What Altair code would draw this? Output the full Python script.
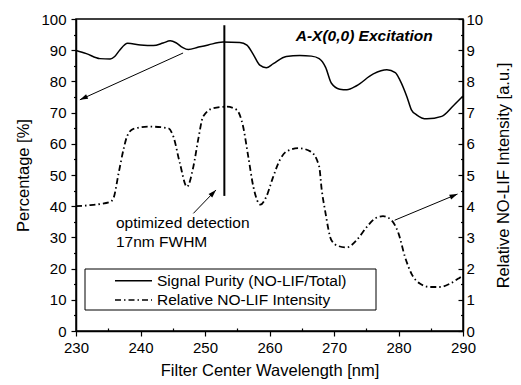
import math
import altair as alt
import pandas as pd

# ---- data ----
purity_wl = [230, 231.6, 233.7, 235.3, 236.0, 236.8, 238.0, 240.0, 242.0, 243.5, 244.6, 245.5,
             246.5, 247.4, 249.0, 250.5, 252.8, 255.4, 256.5, 257.5, 258.5, 259.5, 260.6, 262.6,
             264.7, 266.5, 267.7, 268.7, 269.6, 270.9, 272.0, 273.5, 276.1, 278.2, 279.5, 280.2,
             281.3, 282.0, 282.8, 284.4, 286.7, 288.5, 290.0]
purity = [89.9, 88.9, 87.3, 87.2, 88.0, 90.1, 92.2, 91.7, 91.5, 92.3, 93.0, 92.4,
          90.9, 90.2, 91.0, 91.7, 92.6, 92.5, 91.6, 88.6, 85.2, 84.4, 85.7, 88.0,
          88.3, 88.1, 87.3, 84.5, 79.4, 77.5, 77.3, 78.6, 82.4, 83.7, 82.8, 80.5,
          75.1, 70.9, 69.3, 68.0, 68.8, 72.2, 75.3]

lif_wl = [230, 232, 233.7, 235.3, 235.8, 236.6, 237.4, 237.9, 238.9, 241.5, 244.3, 245.1,
          246.1, 247.2, 248.2, 249.0, 249.7, 251.3, 253.4, 254.9, 255.9, 256.7, 257.5, 258.6,
          259.5, 260.5, 261.6, 262.6, 264.5, 266.4, 267.7, 268.1, 268.6, 269.6, 270.7, 272.0,
          273.5, 275.1, 276.4, 277.6, 278.9, 280.0, 281.0, 282.0, 283.3, 284.9, 286.4, 288.0,
          289.5, 290.0]
lif = [4.00, 4.03, 4.07, 4.14, 4.25, 5.05, 5.85, 6.23, 6.48, 6.55, 6.50, 6.23,
       5.38, 4.62, 5.27, 6.20, 6.87, 7.14, 7.19, 7.09, 6.56, 5.60, 4.62, 4.05,
       4.30, 4.90, 5.48, 5.75, 5.86, 5.75, 5.27, 4.52, 3.88, 2.91, 2.72, 2.68,
       2.91, 3.34, 3.61, 3.68, 3.55, 3.13, 2.38, 1.84, 1.52, 1.41, 1.41, 1.52,
       1.71, 1.78]

detect_wl = 253.0
detect_y = [43.3, 98.0]

arrow_from_x = [246.6, 248.2, 279.4]
arrow_from_y = [89.1, 37.7, 35.5]
arrow_to_x = [230.6, 251.7, 289.15]
arrow_to_y = [74.1, 45.2, 43.9]

title_text = "A-X(0,0) Excitation"
note_lines = ["optimized detection", "17nm FWHM"]
legend_labels = ["Signal Purity (NO-LIF/Total)", "Relative NO-LIF Intensity"]

# ---- layout ----
W, H = 387, 312
FONT = "Liberation Sans"
DASHDOT = [6, 3, 1.5, 3]


def xs():
    return alt.Scale(domain=[230, 290], nice=False, zero=False)


def yl():
    return alt.Scale(domain=[0, 100], nice=False)


yr = alt.Scale(domain=[0, 10], nice=False)


def x_axis():
    return alt.Axis(values=list(range(230, 291, 5)),
                    labelExpr="datum.value % 10 === 0 ? datum.label : ''",
                    tickSize=alt.ExprRef(expr="datum.value % 10 === 0 ? 5 : -3"),
                    labelPadding=4, labelFlush=False, labelOverlap=False,
                    title="Filter Center Wavelength [nm]", titlePadding=7,
                    grid=False)


yl_axis = alt.Axis(orient="left", values=list(range(0, 101, 5)),
                   labelExpr="datum.value % 10 === 0 ? datum.label : ''",
                   tickSize=alt.ExprRef(expr="datum.value % 10 === 0 ? 5 : 2.5"),
                   labelPadding=5, labelFlush=False, labelOverlap=False,
                   title="Percentage [%]", titlePadding=9, grid=False)
yr_axis = alt.Axis(orient="right", values=[v / 2 for v in range(0, 21)], format=".0f",
                   labelExpr="datum.value % 1 === 0 ? datum.label : ''",
                   tickSize=alt.ExprRef(expr="datum.value % 1 === 0 ? -5 : -2.5"),
                   labelPadding=8, labelFlush=False, labelOverlap=False,
                   title="Relative NO-LIF Intensity  [a.u.]", titleAngle=270,
                   titlePadding=29, grid=False)

df_p = pd.DataFrame({"wl": purity_wl, "v": purity})
df_l = pd.DataFrame({"wl": lif_wl, "v": lif})

purity_line = alt.Chart(df_p).mark_line(color="black", strokeWidth=1.5, interpolate="monotone").encode(
    x=alt.X("wl:Q", scale=xs(), axis=x_axis()),
    y=alt.Y("v:Q", scale=yl(), axis=yl_axis),
)

df_det = pd.DataFrame({"wl": [detect_wl], "y1": [detect_y[0]], "y2": [detect_y[1]]})
det_rule = alt.Chart(df_det).mark_rule(color="black", strokeWidth=2).encode(
    x=alt.X("wl:Q", scale=xs(), axis=x_axis()),
    y=alt.Y("y1:Q", scale=yl(), axis=None),
    y2="y2:Q",
)

# arrows
df_arr = pd.DataFrame({"x1": arrow_from_x, "y1": arrow_from_y, "x2": arrow_to_x, "y2": arrow_to_y})
px_x = W / 60.0
px_y = H / 100.0
df_arr["ang"] = [
    (math.degrees(math.atan2((x2 - x1) * px_x, (y2 - y1) * px_y)) + 360) % 360
    for x1, y1, x2, y2 in zip(arrow_from_x, arrow_from_y, arrow_to_x, arrow_to_y)
]
arrow_lines = alt.Chart(df_arr).mark_rule(color="black", strokeWidth=1).encode(
    x=alt.X("x1:Q", scale=xs(), axis=x_axis()), y=alt.Y("y1:Q", scale=yl(), axis=None),
    x2="x2:Q", y2="y2:Q",
)
arrow_heads = alt.Chart(df_arr).mark_point(
    shape="M0,0 L-0.32,1 L0.32,1 Z", filled=True, color="black", size=256, opacity=1
).encode(
    x=alt.X("x2:Q", scale=xs(), axis=x_axis()), y=alt.Y("y2:Q", scale=yl(), axis=None),
    angle=alt.Angle("ang:Q", scale=None),
)

# annotations
df_title = pd.DataFrame({"x": [285.3], "y": [94.6], "t": [title_text]})
title_mark = alt.Chart(df_title).mark_text(
    align="right", baseline="middle", font=FONT, fontSize=15.5, fontWeight="bold",
    fontStyle="italic", color="black"
).encode(x=alt.X("x:Q", scale=xs(), axis=x_axis()), y=alt.Y("y:Q", scale=yl(), axis=None), text="t:N")

df_note = pd.DataFrame({"x": [236.2, 236.2], "y": [34.7, 28.6], "t": note_lines})
note_mark = alt.Chart(df_note).mark_text(
    align="left", baseline="middle", font=FONT, fontSize=15.5, color="black"
).encode(x=alt.X("x:Q", scale=xs(), axis=x_axis()), y=alt.Y("y:Q", scale=yl(), axis=None), text="t:N")

# legend (manual box)
one = pd.DataFrame({"a": [0]})
leg_box = alt.Chart(one).mark_rect(fill="white", stroke="black", strokeWidth=1).encode(
    x=alt.value(9), x2=alt.value(300), y=alt.value(250), y2=alt.value(291)
)
leg_solid = alt.Chart(one).mark_rule(color="black", strokeWidth=1.5).encode(
    x=alt.value(39), x2=alt.value(76), y=alt.value(261.7)
)
leg_dash = alt.Chart(one).mark_rule(color="black", strokeWidth=1.5, strokeDash=DASHDOT).encode(
    x=alt.value(39), x2=alt.value(76), y=alt.value(281)
)
leg_t1 = alt.Chart(pd.DataFrame({"t": [legend_labels[0]]})).mark_text(
    align="left", baseline="middle", font=FONT, fontSize=15.5, color="black"
).encode(x=alt.value(81), y=alt.value(261.7), text="t:N")
leg_t2 = alt.Chart(pd.DataFrame({"t": [legend_labels[1]]})).mark_text(
    align="left", baseline="middle", font=FONT, fontSize=15.5, color="black"
).encode(x=alt.value(81), y=alt.value(281), text="t:N")

lif_line = alt.Chart(df_l).mark_line(color="black", strokeWidth=1.8, strokeDash=DASHDOT,
                                     interpolate="monotone").encode(
    x=alt.X("wl:Q", scale=xs(), axis=x_axis()),
    y=alt.Y("v:Q", scale=yr, axis=yr_axis),
)

chart = alt.layer(
    purity_line, lif_line, det_rule, arrow_lines, arrow_heads, title_mark, note_mark,
    leg_box, leg_solid, leg_dash, leg_t1, leg_t2
).resolve_scale(y="independent").properties(
    width=W, height=H,
    autosize=alt.AutoSizeParams(type="none"),
    padding={"left": 76, "top": 19, "right": 58, "bottom": 54},
    background="white",
).configure_view(stroke="black", strokeWidth=1.5).configure_axis(
    domainColor="black", domainWidth=1.5, tickColor="black", tickWidth=1.2,
    labelFont=FONT, labelFontSize=15, labelColor="black",
    titleFont=FONT, titleFontSize=16.5, titleFontWeight="normal", titleColor="black",
)

chart.save("out.html", embed_options={"renderer": "svg", "actions": False})
